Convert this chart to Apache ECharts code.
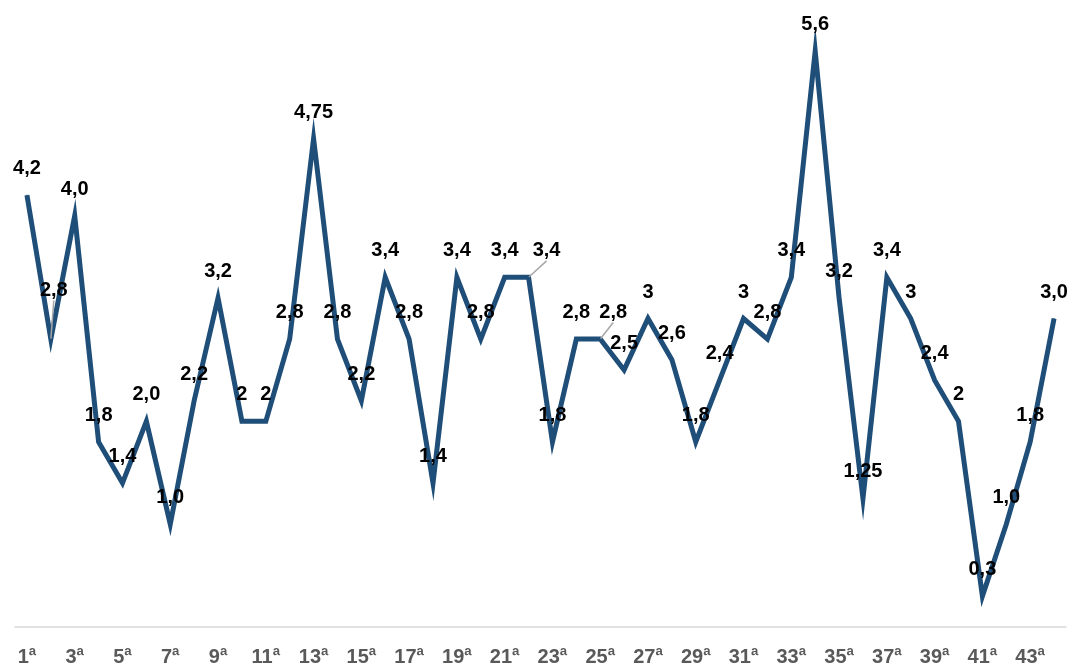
<!DOCTYPE html>
<html>
<head>
<meta charset="utf-8">
<script src="https://cdn.jsdelivr.net/npm/echarts@6/dist/echarts.min.js"></script>
<style>
  html, body { margin: 0; padding: 0; background: #ffffff; }
  #chart { width: 1077px; height: 671px; }
</style>
</head>
<body>
<div id="chart"></div>
<script>
// Rounds 1ª .. 44ª
const rounds = Array.from({ length: 44 }, (_, i) => (i + 1) + 'ª');

// Value per round
const values = [
  4.2, 2.8, 4.0, 1.8, 1.4, 2.0, 1.0, 2.2, 3.2, 2,
  2, 2.8, 4.75, 2.8, 2.2, 3.4, 2.8, 1.4, 3.4, 2.8,
  3.4, 3.4, 1.8, 2.8, 2.8, 2.5, 3, 2.6, 1.8, 2.4,
  3, 2.8, 3.4, 5.6, 3.2, 1.25, 3.4, 3, 2.4, 2,
  0.3, 1.0, 1.8, 3.0
];

// Decimal places shown in each data label
const decimals = [
  1, 1, 1, 1, 1, 1, 1, 1, 1, 0,
  0, 1, 2, 1, 1, 1, 1, 1, 1, 1,
  1, 1, 1, 1, 1, 1, 0, 1, 1, 1,
  0, 1, 1, 1, 1, 2, 1, 0, 1, 0,
  1, 1, 1, 1
];

// Labels nudged away from the line (index -> shift in px), drawn with a leader line
const shiftedLabels = { 1: [3, -22], 21: [18, 0], 24: [13, 0] };

const seriesData = values.map((v, i) =>
  shiftedLabels[i] ? { value: v, labelLine: { show: true } } : v
);

const FONT = '"Liberation Sans", Arial, sans-serif';

const chart = echarts.init(document.getElementById('chart'), null, { renderer: 'canvas' });

chart.setOption({
  backgroundColor: '#ffffff',
  animation: false,
  grid: { left: 15, right: 11, top: 10, bottom: 44 },
  xAxis: {
    type: 'category',
    data: rounds,
    boundaryGap: true,
    axisLine: { show: true, lineStyle: { color: '#d9d9d9', width: 1.5 } },
    axisTick: { show: false },
    axisLabel: {
      interval: 1,
      margin: 20,
      color: '#595959',
      fontFamily: FONT,
      fontWeight: 'bold',
      fontSize: 20
    },
    splitLine: { show: false }
  },
  yAxis: {
    type: 'value',
    min: 0,
    max: 6,
    show: false,
    splitLine: { show: false }
  },
  series: [{
    type: 'line',
    data: seriesData,
    showSymbol: true,
    symbol: 'circle',
    symbolSize: 1,
    itemStyle: { color: '#1f4e79' },
    lineStyle: { color: '#1f4e79', width: 5, join: 'miter' },
    label: {
      show: true,
      position: 'top',
      distance: 16,
      color: '#000000',
      fontFamily: FONT,
      fontWeight: 'bold',
      fontSize: 20,
      formatter: (p) => values[p.dataIndex].toFixed(decimals[p.dataIndex]).replace('.', ',')
    },
    labelLine: {
      show: false,
      lineStyle: { color: '#a6a6a6', width: 1.5 }
    },
    labelLayout: (params) => {
      const s = shiftedLabels[params.dataIndex];
      return s ? { dx: s[0], dy: s[1] } : {};
    }
  }]
});
</script>
</body>
</html>
